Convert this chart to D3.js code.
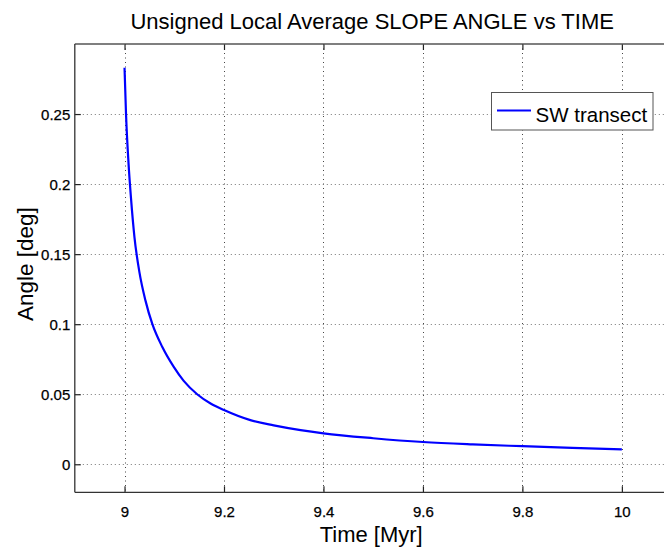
<!DOCTYPE html>
<html>
<head>
<meta charset="utf-8">
<script src="https://cdn.jsdelivr.net/npm/d3@7"></script>
<style>
  html, body { margin: 0; padding: 0; background: #fff; }
  svg { display: block; }
  text { font-family: "Liberation Sans", Arial, Helvetica, sans-serif; fill: #000; }
</style>
</head>
<body>
<svg id="chart" width="664" height="548"></svg>
<script>
// ---- data ----
const time = [9.000, 9.003, 9.008, 9.013, 9.020, 9.030, 9.042, 9.056, 9.076, 9.099, 9.119, 9.146, 9.173, 9.200,
              9.253, 9.300, 9.354, 9.400, 9.500, 9.600, 9.700, 9.800, 9.900, 10.000];
const angle = [0.283, 0.250, 0.215, 0.190, 0.162, 0.137, 0.117, 0.100, 0.0837, 0.0695, 0.0595, 0.0500, 0.0434, 0.0387,
               0.0315, 0.0278, 0.0244, 0.0221, 0.0186, 0.0159, 0.0142, 0.0129, 0.0117, 0.0107];
const xTicks = [9, 9.2, 9.4, 9.6, 9.8, 10];
const yTicks = [0, 0.05, 0.1, 0.15, 0.2, 0.25];
const xDomain = [8.9, 10.1];
const yDomain = [-0.02, 0.3];
const titleText = "Unsigned Local Average SLOPE ANGLE vs TIME";
const xLabel = "Time [Myr]";
const yLabel = "Angle [deg]";
const seriesName = "SW transect";

// ---- layout ----
const L = 74.8, R = 671.6, T = 44, B = 492.3;
const svg = d3.select("#chart");
svg.append("rect").attr("width", 664).attr("height", 548).attr("fill", "#fff");

const x = d3.scaleLinear().domain(xDomain).range([L, R]);
const y = d3.scaleLinear().domain(yDomain).range([B, T]);

const g = svg.append("g");

// grid
g.append("g").selectAll("line").data(xTicks).join("line")
  .attr("x1", d => Math.round(x(d)) + 0.5).attr("x2", d => Math.round(x(d)) + 0.5)
  .attr("y1", T).attr("y2", B)
  .attr("stroke", "#444").attr("stroke-width", 1).attr("stroke-dasharray", "1,3.5");
g.append("g").selectAll("line").data(yTicks).join("line")
  .attr("y1", d => Math.round(y(d)) + 0.5).attr("y2", d => Math.round(y(d)) + 0.5)
  .attr("x1", L).attr("x2", R)
  .attr("stroke", "#777").attr("stroke-width", 1).attr("stroke-dasharray", "1,3");

// axes via d3
const xAxisB = d3.axisBottom(x).tickValues(xTicks).tickSizeInner(-6).tickSizeOuter(0).tickPadding(14)
  .tickFormat(d3.format("~g"));
const gxb = svg.append("g").attr("transform", `translate(0,${B})`).call(xAxisB);
gxb.select(".domain").remove();
gxb.selectAll(".tick line").attr("stroke", "#222").attr("stroke-width", 1.2);
gxb.selectAll(".tick text").attr("font-size", 15).attr("dy", 0).attr("y", 24.5)
  .attr("stroke", "#000").attr("stroke-width", 0.25);

const xAxisT = d3.axisTop(x).tickValues(xTicks).tickSizeInner(-6).tickSizeOuter(0).tickFormat("");
const gxt = svg.append("g").attr("transform", `translate(0,${T})`).call(xAxisT);
gxt.select(".domain").remove();
gxt.selectAll(".tick line").attr("stroke", "#222").attr("stroke-width", 1.2);

const yAxisL = d3.axisLeft(y).tickValues(yTicks).tickSizeInner(-6).tickSizeOuter(0).tickPadding(10)
  .tickFormat(d3.format("~g"));
const gyl = svg.append("g").attr("transform", `translate(${L},0)`).call(yAxisL);
gyl.select(".domain").remove();
gyl.selectAll(".tick line").attr("stroke", "#222").attr("stroke-width", 1.2);
gyl.selectAll(".tick text").attr("font-size", 15).attr("x", -4.5).attr("dy", "0.36em")
  .attr("stroke", "#000").attr("stroke-width", 0.25);

// box
svg.append("line").attr("x1", L).attr("x2", R).attr("y1", T).attr("y2", T)
  .attr("stroke", "#555").attr("stroke-width", 1.3);
svg.append("line").attr("x1", L).attr("x2", R).attr("y1", B).attr("y2", B)
  .attr("stroke", "#333").attr("stroke-width", 1.3);
svg.append("line").attr("x1", L).attr("x2", L).attr("y1", T).attr("y2", B)
  .attr("stroke", "#333").attr("stroke-width", 1.3);
svg.append("line").attr("x1", R).attr("x2", R).attr("y1", T).attr("y2", B)
  .attr("stroke", "#333").attr("stroke-width", 1.3);

// series line
const pts = time.map((t, i) => [t, angle[i]]);
svg.append("path").datum(pts)
  .attr("fill", "none").attr("stroke", "#0000ff").attr("stroke-width", 2.2)
  .attr("stroke-linejoin", "round")
  .attr("d", d3.line().x(d => x(d[0])).y(d => y(d[1])).curve(d3.curveMonotoneX));

// legend
const lg = svg.append("g");
lg.append("rect").attr("x", 491.5).attr("y", 92.5).attr("width", 161.5).attr("height", 37.5)
  .attr("fill", "#fff").attr("stroke", "#555").attr("stroke-width", 1);
lg.append("line").attr("x1", 497).attr("x2", 531).attr("y1", 110.5).attr("y2", 110.5)
  .attr("stroke", "#0000ff").attr("stroke-width", 2);
lg.append("text").attr("x", 535.5).attr("y", 121.5).attr("font-size", 20.5).text(seriesName);

// titles
svg.append("text").attr("x", (L + R) / 2 - 1).attr("y", 29).attr("text-anchor", "middle")
  .attr("font-size", 22).text(titleText);
svg.append("text").attr("x", (L + R) / 2 - 2).attr("y", 541.5).attr("text-anchor", "middle")
  .attr("font-size", 22).text(xLabel);
svg.append("text").attr("transform", `translate(32.5,${(T + B) / 2 - 4}) rotate(-90)`)
  .attr("text-anchor", "middle").attr("font-size", 22.5).text(yLabel);
</script>
</body>
</html>
